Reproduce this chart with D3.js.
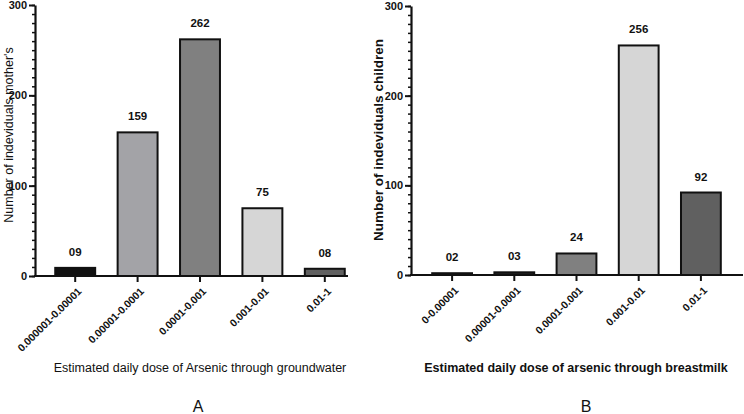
<!DOCTYPE html>
<html lang="en">
<head>
<meta charset="UTF-8"/>
<title>Arsenic daily dose - mothers and children</title>
<script src="https://d3js.org/d3.v7.min.js"></script>
<style>
  body { margin: 0; background: white; }
  text { font-family: "Liberation Sans", Arial, sans-serif; fill: #111; }
</style>
</head>
<body>
<script>
    // Data
    var catsA = ["0.000001-0.00001", "0.00001-0.0001", "0.0001-0.001", "0.001-0.01", "0.01-1"];
    var valsA = [9, 159, 262, 75, 8];
    var labelsA = ["09", "159", "262", "75", "08"];
    var colorsA = ["#111111", "#a3a3a7", "#808080", "#d6d6d6", "#606060"];

    var catsB = ["0-0.00001", "0.00001-0.0001", "0.0001-0.001", "0.001-0.01", "0.01-1"];
    var valsB = [2, 3, 24, 256, 92];
    var labelsB = ["02", "03", "24", "256", "92"];
    var colorsB = ["#cfcfcf", "#222222", "#808080", "#d6d6d6", "#606060"];

    var yTicks = [0, 100, 200, 300];

    var svg = d3.select("body")
                .append("svg")
                .attr("width", 744)
                .attr("height", 414);

    // Draws one panel
    function drawPanel(p) {
        var xScale = d3.scaleBand()
                       .domain(p.cats)
                       .range([p.bandStart, p.bandEnd])
                       .paddingInner(0.36)
                       .paddingOuter(0.18);

        var yScale = d3.scaleLinear()
                       .domain([0, 300])
                       .range([p.yBottom, p.yTop]);

        var g = svg.append("g");

        // bars
        g.selectAll("rect")
         .data(p.vals)
         .enter()
         .append("rect")
         .attr("x", function(d, i) { return xScale(p.cats[i]); })
         .attr("y", function(d) { return yScale(d); })
         .attr("width", xScale.bandwidth())
         .attr("height", function(d) { return yScale(0) - yScale(d); })
         .attr("fill", function(d, i) { return p.colors[i]; })
         .attr("stroke", "#111")
         .attr("stroke-width", 2);

        // value labels
        g.selectAll(".val")
         .data(p.vals)
         .enter()
         .append("text")
         .attr("class", "val")
         .attr("x", function(d, i) { return xScale(p.cats[i]) + xScale.bandwidth() / 2; })
         .attr("y", function(d) { return yScale(d) - 12; })
         .attr("text-anchor", "middle")
         .style("font-size", "11.5px")
         .style("font-weight", "bold")
         .text(function(d, i) { return p.labels[i]; });

        // minor y ticks
        var yMinor = d3.axisLeft(yScale)
                       .tickValues(d3.range(0, 301, 10))
                       .tickSize(3)
                       .tickFormat("");
        g.append("g")
         .attr("transform", "translate(" + p.axisX + ",0)")
         .call(yMinor)
         .call(function(a) { a.select(".domain").remove(); })
         .selectAll("line").attr("stroke", "#111").attr("stroke-width", 1.5);

        // major y axis
        var yAxis = d3.axisLeft(yScale)
                      .tickValues(yTicks)
                      .tickSize(6)
                      .tickSizeOuter(0)
                      .tickPadding(2);
        var ya = g.append("g")
                  .attr("transform", "translate(" + p.axisX + ",0)")
                  .call(yAxis);
        ya.select(".domain").attr("stroke", "#111").attr("stroke-width", 2.2);
        ya.selectAll("line").attr("stroke", "#111").attr("stroke-width", 2);
        ya.selectAll("text")
          .style("font-size", "11px")
          .style("font-weight", "bold")
          .style("font-family", "Liberation Sans, Arial, sans-serif");

        // x axis ticks (labels drawn separately, rotated)
        var xAxis = d3.axisBottom(xScale).tickSize(6).tickSizeOuter(0).tickFormat("");
        var xa = g.append("g")
                  .attr("transform", "translate(0," + yScale(0) + ")")
                  .call(xAxis);
        xa.select(".domain").remove();
        xa.selectAll("line").attr("stroke", "#111").attr("stroke-width", 2);

        g.selectAll(".cat")
         .data(p.cats)
         .enter()
         .append("text")
         .attr("class", "cat")
         .attr("text-anchor", "end")
         .attr("transform", function(d) {
             var cx = xScale(d) + xScale.bandwidth() / 2 + 7;
             var cy = yScale(0) + 16;
             return "translate(" + cx + "," + cy + ") rotate(-45)";
         })
         .style("font-size", "10.5px")
         .style("font-weight", "bold")
         .text(function(d) { return d; });

        g.append("line")
         .attr("x1", p.axisX - 1)
         .attr("x2", p.axisEnd)
         .attr("y1", yScale(0))
         .attr("y2", yScale(0))
         .attr("stroke", "#111")
         .attr("stroke-width", 2.2);

        // titles
        g.append("text")
         .attr("transform", "translate(" + p.yTitleX + "," + p.yTitleY + ") rotate(-90)")
         .attr("text-anchor", "middle")
         .style("font-size", p.yTitleSize)
         .style("font-weight", p.titleWeight)
         .text(p.yTitle);

        g.append("text")
         .attr("x", p.xTitleX)
         .attr("y", 372)
         .attr("text-anchor", "middle")
         .style("font-size", "12.5px")
         .style("font-weight", p.titleWeight)
         .text(p.xTitle);

        g.append("text")
         .attr("x", p.letterX)
         .attr("y", 412)
         .attr("text-anchor", "middle")
         .style("font-size", "16px")
         .text(p.letter);
    }

    drawPanel({
        cats: catsA, vals: valsA, labels: labelsA, colors: colorsA,
        axisX: 35, axisEnd: 348, bandStart: 44, bandEnd: 356,
        yBottom: 276, yTop: 5,
        yTitle: "Number of indeviduals mother's", yTitleX: 13, yTitleY: 135,
        yTitleSize: "12.5px",
        xTitle: "Estimated daily dose of Arsenic through groundwater", xTitleX: 200,
        titleWeight: "normal",
        letter: "A", letterX: 198
    });

    drawPanel({
        cats: catsB, vals: valsB, labels: labelsB, colors: colorsB,
        axisX: 411, axisEnd: 743, bandStart: 421, bandEnd: 732,
        yBottom: 275, yTop: 6,
        yTitle: "Number of indeviduals children", yTitleX: 383, yTitleY: 140,
        yTitleSize: "13.5px",
        xTitle: "Estimated daily dose of arsenic through breastmilk", xTitleX: 576,
        titleWeight: "bold",
        letter: "B", letterX: 586
    });
</script>
</body>
</html>
